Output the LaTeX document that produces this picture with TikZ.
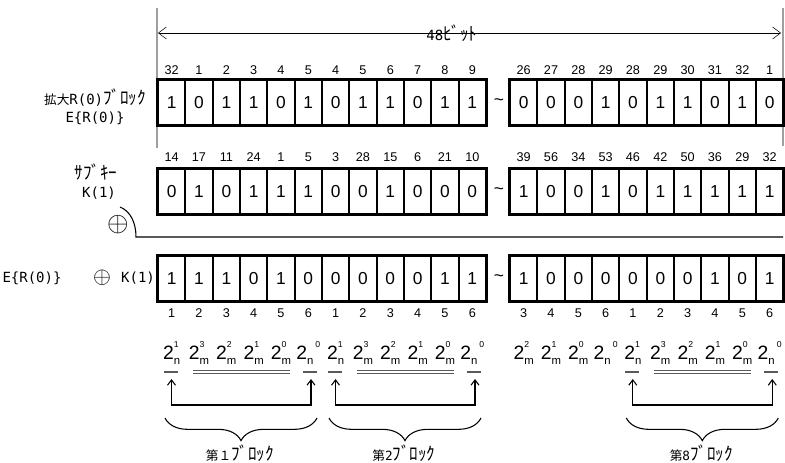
\documentclass[tikz,border=0pt]{standalone}
\usepackage{fontspec}
\setmainfont{Liberation Sans}
\newfontfamily\jp{Noto Sans CJK JP}
\newfontfamily\mono{DejaVu Sans Mono}
\usepackage{tikz}
\usetikzlibrary{positioning,arrows.meta,decorations.pathreplacing}
% 2 with stacked sub/superscript, and 2_n with the superscript after it
\newcommand{\pw}[2]{2\rlap{\raisebox{0.62em}{\fontsize{6.5}{6.5}\selectfont #2}}\raisebox{-0.3em}{\fontsize{8.5}{8.5}\selectfont #1}}
\newcommand{\pwz}[1]{2\raisebox{-0.3em}{\fontsize{8.5}{8.5}\selectfont n}\hspace{1.5pt}\raisebox{0.62em}{\fontsize{6.5}{6.5}\selectfont #1}}
% half-width kana are drawn tall and wide in the original
\newcommand{\hw}[1]{\scalebox{1.35}[1.45]{#1}}

\begin{document}
\begin{tikzpicture}[
    x=0.75pt, y=-0.75pt,
    every node/.style={inner sep=0pt},
    cell/.style={draw, line width=1.3pt, minimum width=20.5pt, minimum height=33pt,
      font=\fontsize{13}{13}\selectfont},
    idx/.style={font=\fontsize{9.5}{10}\selectfont},
    lab/.style={font=\jp\fontsize{9.5}{12}\selectfont},
    frame/.style={line width=1.8pt},
    guide/.style={gray!75, line width=1.2pt},
    uline/.style={gray!70!black, line width=1.3pt},
    dline/.style={gray!70!black, double, line width=0.6pt, double distance=1.2pt},
    tip/.style={{Straight Barb[length=4pt,width=6pt]}-{Straight Barb[length=4pt,width=6pt]}},
    wide/.style={{Straight Barb[length=6pt,width=9pt]}-{Straight Barb[length=6pt,width=9pt]}},
  ]
    \useasboundingbox (0,0) rectangle (785,463);
    % cell width (px) and left edges of the two groups
    \def\cw{27.33}
    \def\xa{158}
    \def\xb{510}

    % guides and the 48-bit span
    \draw[guide] (157,8) -- (157,148);
    \draw[guide] (783,8) -- (783,146);
    \coordinate (spanL) at (158,33);
    \coordinate (spanR) at (781,33);
    \draw[wide] (spanL) -- (spanR);
    \node[lab] (span) at (452,33) {{\mono\fontsize{10.5}{12}\selectfont 48}\hw{ﾋﾞｯﾄ}};

    % --- row 1: E{R(0)}
    \node[lab] (lblE) at (95,98) {拡大{\mono\fontsize{10.5}{12}\selectfont R(0)}\hw{ﾌﾞﾛｯｸ}};
    \node[lab, font=\mono\fontsize{10.5}{12}\selectfont] (lblEb) at (95,118) {E\{R(0)\}};
    \foreach \n/\b [count=\i] in {32/1,1/0,2/1,3/1,4/0,5/1,4/0,5/1,6/1,7/0,8/1,9/1} {
      \node[cell] (ea\i) at ({\xa+(\i-0.5)*\cw},102.5) {\b};
      \node[idx] (na\i) at ({\xa+(\i-0.5)*\cw},70) {\n};
    }
    \foreach \n/\b [count=\i] in {26/0,27/0,28/0,29/1,28/0,29/1,30/1,31/0,32/1,1/0} {
      \node[cell] (eb\i) at ({\xb+(\i-0.5)*\cw},102.5) {\b};
      \node[idx] (nb\i) at ({\xb+(\i-0.5)*\cw},70) {\n};
    }
    \draw[frame] (ea1.north west) rectangle (ea12.south east);
    \draw[frame] (eb1.north west) rectangle (eb10.south east);
    \node[cell, draw=none] (etl) at (499,102.5) {\textasciitilde};

    % --- row 2: K(1)
    \node[lab] (lblK) at (96,172) {\hw{ｻﾌﾞｷｰ}};
    \node[lab, font=\mono\fontsize{10.5}{12}\selectfont] (lblKb) at (99,193) {K(1)};
    \foreach \n/\b [count=\i] in {14/0,17/1,11/0,24/1,1/1,5/1,3/0,28/0,15/1,6/0,21/0,10/0} {
      \node[cell] (ka\i) at ({\xa+(\i-0.5)*\cw},191.5) {\b};
      \node[idx] (ma\i) at ({\xa+(\i-0.5)*\cw},157) {\n};
    }
    \foreach \n/\b [count=\i] in {39/1,56/0,34/0,53/1,46/0,42/1,50/1,36/1,29/1,32/1} {
      \node[cell] (kb\i) at ({\xb+(\i-0.5)*\cw},191.5) {\b};
      \node[idx] (mb\i) at ({\xb+(\i-0.5)*\cw},157) {\n};
    }
    \draw[frame] (ka1.north west) rectangle (ka12.south east);
    \draw[frame] (kb1.north west) rectangle (kb10.south east);
    \node[cell, draw=none] (ktl) at (499,191.5) {\textasciitilde};

    % XOR rule
    \node[font=\fontsize{20}{20}\selectfont] (xorK) at (118,225) {$\oplus$};
    \coordinate (sepA) at (120,207);
    \coordinate (sepB) at (136,237);
    \coordinate (sepC) at (783,237);
    \draw[line width=0.8pt] (sepA) .. controls (130,211) and (136,222) .. (sepB) -- (sepC);

    % --- row 3: E{R(0)} xor K(1)
    \node[lab, font=\mono\fontsize{10.5}{12}\selectfont] (lblX) at (32,278) {E\{R(0)\}};
    \node[font=\fontsize{18}{18}\selectfont] (xorX) at (102,278) {$\oplus$};
    \node[lab, font=\mono\fontsize{10.5}{12}\selectfont] (lblXb) at (138,278) {K(1)};
    \foreach \n/\b [count=\i] in {1/1,2/1,3/1,4/0,5/1,6/0,1/0,2/0,3/0,4/0,5/1,6/1} {
      \node[cell] (xa\i) at ({\xa+(\i-0.5)*\cw},278.5) {\b};
      \node[idx] (pa\i) at ({\xa+(\i-0.5)*\cw},313) {\n};
    }
    \foreach \n/\b [count=\i] in {3/1,4/0,5/0,6/0,1/0,2/0,3/0,4/1,5/0,6/1} {
      \node[cell] (xb\i) at ({\xb+(\i-0.5)*\cw},278.5) {\b};
      \node[idx] (pb\i) at ({\xb+(\i-0.5)*\cw},313) {\n};
    }
    \draw[frame] (xa1.north west) rectangle (xa12.south east);
    \draw[frame] (xb1.north west) rectangle (xb10.south east);
    \node[cell, draw=none] (xtl) at (499,278.5) {\textasciitilde};

    % --- weights of each bit
    \foreach \t [count=\i] in {{\pw{n}{1}},{\pw{m}{3}},{\pw{m}{2}},{\pw{m}{1}},{\pw{m}{0}},{\pwz{0}},
                                {\pw{n}{1}},{\pw{m}{3}},{\pw{m}{2}},{\pw{m}{1}},{\pw{m}{0}},{\pwz{0}}} {
      \node[font=\fontsize{14.5}{14.5}\selectfont] (wa\i) at ({\xa+(\i-0.5)*\cw},353) {\t};
    }
    \foreach \t [count=\i] in {{\pw{m}{2}},{\pw{m}{1}},{\pw{m}{0}},{\pwz{0}},
                                {\pw{n}{1}},{\pw{m}{3}},{\pw{m}{2}},{\pw{m}{1}},{\pw{m}{0}},{\pwz{0}}} {
      \node[font=\fontsize{14.5}{14.5}\selectfont] (wb\i) at ({\xb+(\i-0.5)*\cw},353) {\t};
    }

    % --- blocks: underlines, row/column arrows, brace and name
    \foreach \bx/\lab/\nm in {158/第１/blkA, 322/第{\mono 2}/blkB, 619.3/第{\mono 8}/blkH} {
      \draw[uline] (\bx+6,372) -- (\bx+20,372);
      \draw[dline] (\bx+35,372) -- (\bx+132,372);
      \draw[uline] (\bx+145,372) -- (\bx+159,372);
      \coordinate (\nm s) at (\bx+13.5,379);
      \coordinate (\nm t) at (\bx+153,379);
      \draw[tip, line width=0.8pt] (\nm s) -- (\bx+13.5,405) -- (\bx+153,405) -- (\nm t);
      \draw[line width=0.8pt, decorate, decoration={brace, mirror, amplitude=17pt}]
        (\bx+7,418) -- (\bx+159,418);
      \node[lab] (\nm) at (\bx+82,453) {\lab\hw{ﾌﾞﾛｯｸ}};
    }
  \end{tikzpicture}
\end{document}
